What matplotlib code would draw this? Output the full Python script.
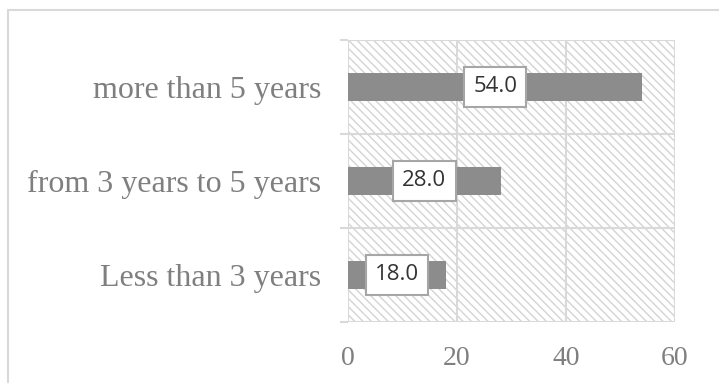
import matplotlib.pyplot as plt
from matplotlib.patches import Rectangle

categories = ['Less than 3 years', 'from 3 years to 5 years', 'more than 5 years']
values = [18.0, 28.0, 54.0]
x_ticks = [0, 20, 40, 60]

grey_txt = '#7f7f7f'
grid_col = '#d9d9d9'

fig = plt.figure(figsize=(7.19, 3.83), dpi=100)
# outer chart border
fig.patches.append(Rectangle((8 / 719, -0.2), 1.0, 1.2 - 10 / 383, transform=fig.transFigure,
                             fill=False, edgecolor=grid_col, linewidth=1.5, zorder=0))

ax = fig.add_axes([348 / 719, 1 - 322 / 383, 327 / 719, 282 / 383])
ax.patch.set_alpha(0)

# hatched plot area
plt.rcParams['hatch.linewidth'] = 1.0
ax.add_patch(Rectangle((0, 0), 1, 1, transform=ax.transAxes, facecolor='white',
                       edgecolor='#d4d4d4', hatch='\\\\\\\\', linewidth=0, zorder=0))

pos = list(range(len(categories)))
ax.barh(pos, values, height=0.3, color='#8c8c8c', zorder=3)

for p, v in zip(pos, values):
    ax.text(v / 2, p, f'{v:.1f}', ha='center', va='center', fontsize=16,
            family='Open Sans', color='#333333', zorder=4,
            bbox=dict(boxstyle='square,pad=0.42', facecolor='white',
                      edgecolor='#a6a6a6', linewidth=1.5))

ax.set_xlim(0, 60)
ax.set_ylim(-0.5, 2.5)
ax.set_xticks(x_ticks)
ax.set_xticklabels([str(t) for t in x_ticks], family='Liberation Serif', fontsize=20, color=grey_txt)
ax.set_yticks(pos)
ax.set_yticklabels(categories, family='Liberation Serif', fontsize=23, color=grey_txt)
ax.set_yticks([-0.5, 0.5, 1.5, 2.5], minor=True)

ax.tick_params(axis='x', length=0, pad=17)
ax.tick_params(axis='y', which='major', length=0, pad=19)
ax.tick_params(axis='y', which='minor', length=6, color=grid_col, width=1.5)

ax.grid(axis='x', color=grid_col, linewidth=1.5, zorder=1)
ax.grid(axis='y', which='minor', color=grid_col, linewidth=1.5, zorder=1)
ax.set_axisbelow(True)
for s in ax.spines.values():
    s.set_visible(False)

fig.savefig('out.png', dpi=100)
